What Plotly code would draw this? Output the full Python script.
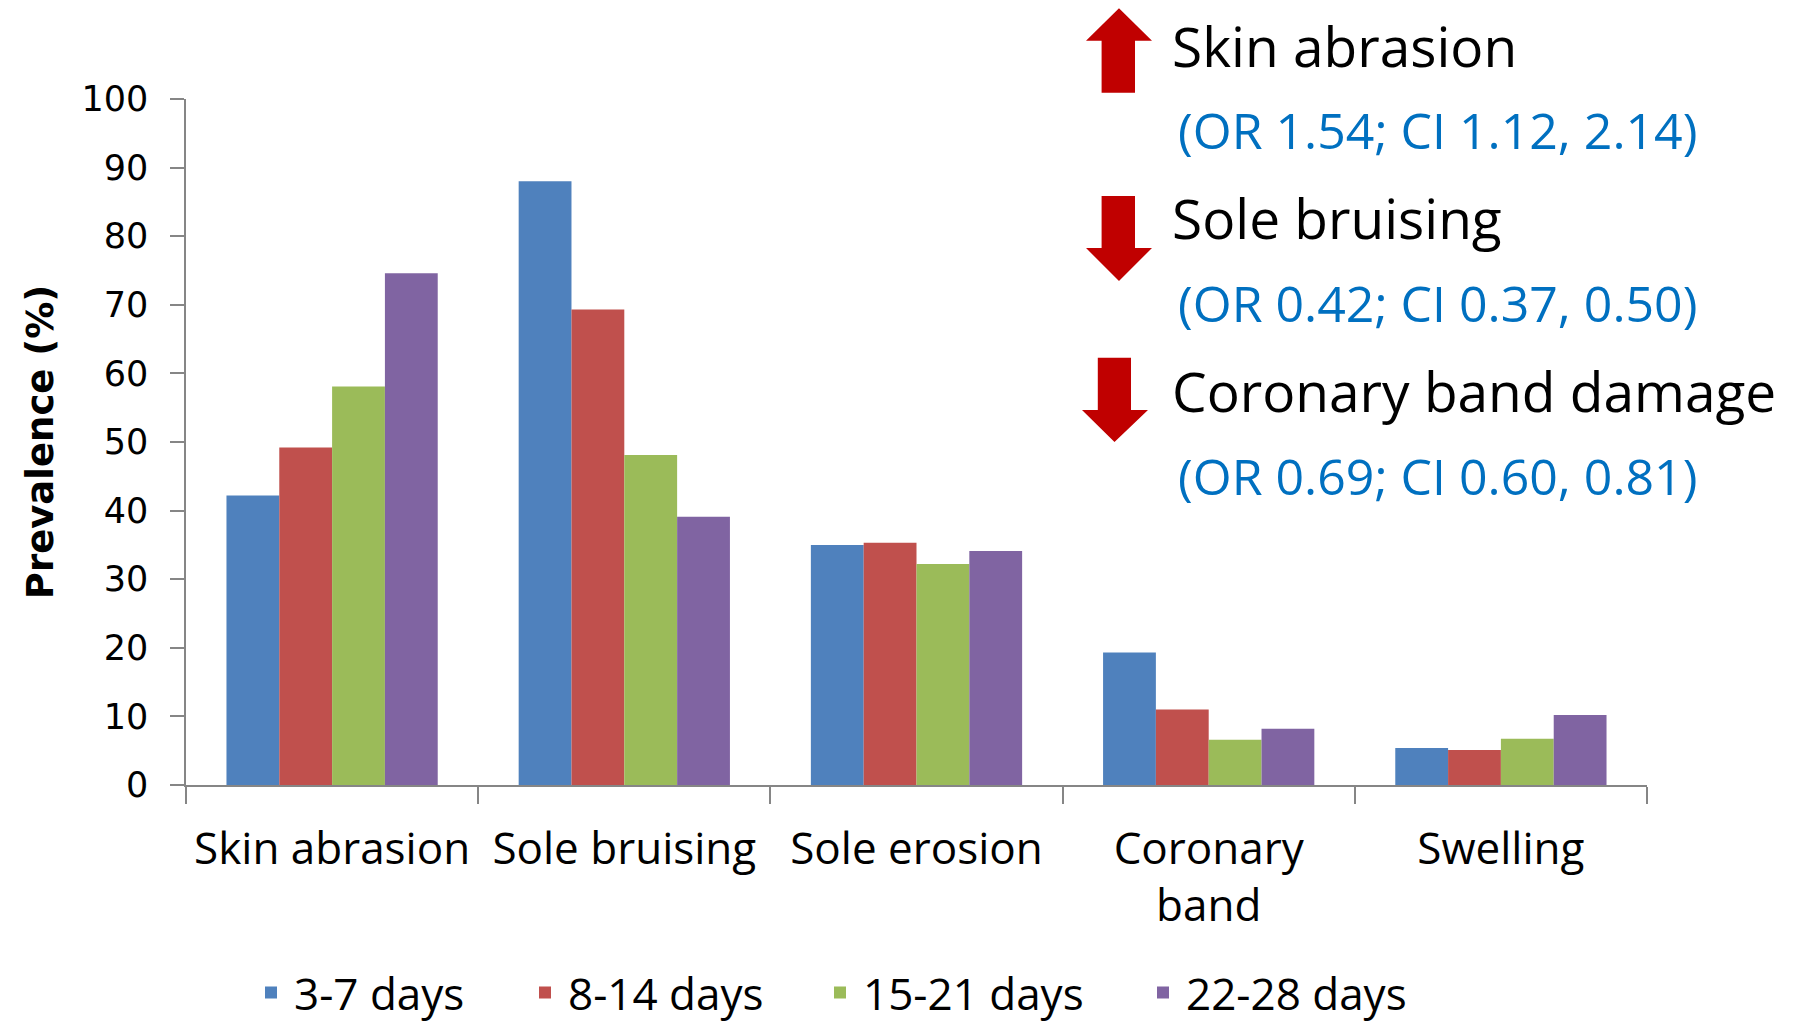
import plotly.graph_objects as go

# ---- data ----
categories = ["Skin abrasion", "Sole bruising", "Sole erosion", "Coronary<br>band", "Swelling"]
series_names = ["3-7 days", "8-14 days", "15-21 days", "22-28 days"]
days_3_7 = [42.2, 88.0, 35.0, 19.3, 5.4]
days_8_14 = [49.2, 69.3, 35.3, 11.0, 5.1]
days_15_21 = [58.1, 48.1, 32.2, 6.6, 6.75]
days_22_28 = [74.6, 39.1, 34.1, 8.2, 10.2]
series_values = [days_3_7, days_8_14, days_15_21, days_22_28]
colors = ["#4F81BD", "#C0504D", "#9BBB59", "#8064A2"]
y_ticks = [0, 10, 20, 30, 40, 50, 60, 70, 80, 90, 100]

annot_lines = [
    ("Skin abrasion", "(OR 1.54; CI 1.12, 2.14)"),
    ("Sole bruising", "(OR 0.42; CI 0.37, 0.50)"),
    ("Coronary band damage", "(OR 0.69; CI 0.60, 0.81)"),
]

W, H = 1795, 1022
PL, PR, PT, PB = 186, 1647, 99, 785  # plot area in pixels


def px(x):
    return (x - PL) / (PR - PL)


def py(y):
    return (PB - y) / (PB - PT)


TEXT_FONT = "Open Sans, Noto Sans, sans-serif"

fig = go.Figure()
legend_x_px = [256, 530, 825, 1148]
for i, (name, vals, col) in enumerate(zip(series_names, series_values, colors)):
    lname = "legend" if i == 0 else f"legend{i+1}"
    fig.add_trace(go.Bar(
        x=categories, y=vals, name=name, marker=dict(color=col, line=dict(width=0)),
        legend=lname, showlegend=True,
    ))

legend_common = dict(
    orientation="h", xref="container", yref="container", yanchor="middle",
    xanchor="left", font=dict(family=TEXT_FONT, size=44, color="#000000"),
    bgcolor="rgba(0,0,0,0)", borderwidth=0, visible=True, itemwidth=36,
)
layout_legends = {}
for i, lx in enumerate(legend_x_px):
    key = "legend" if i == 0 else f"legend{i+1}"
    layout_legends[key] = dict(legend_common, x=(lx - 8) / W, y=1 - 993 / H)

# arrows (decorations) in pixel coords -> paper
def arrow_path(points):
    s = "M " + " L ".join(f"{px(x):.5f},{py(y):.5f}" for x, y in points) + " Z"
    return s

up = [(1101.6, 92.7), (1101.6, 40.7), (1086, 40.7), (1119, 8.3), (1152, 40.7), (1135, 40.7), (1135, 92.7)]
down1 = [(1101.6, 196), (1101.6, 248), (1086, 248), (1119, 281), (1152, 248), (1135, 248), (1135, 196)]
down2 = [(1097.8, 357.7), (1097.8, 410), (1082, 410), (1114.5, 442), (1148, 410), (1131, 410), (1131, 357.7)]
shapes = []
for pts in (up, down1, down2):
    shapes.append(dict(type="path", xref="paper", yref="paper", path=arrow_path(pts),
                       fillcolor="#C00000", line=dict(width=0)))

annotations = []
black_y = [45, 217.5, 390]
blue_y = [130, 303, 476]
for (black, blue), by, bly in zip(annot_lines, black_y, blue_y):
    annotations.append(dict(text=black, xref="paper", yref="paper", x=px(1170), y=py(by),
                            xanchor="left", yanchor="middle", showarrow=False,
                            font=dict(family=TEXT_FONT, size=55, color="#000000")))
    annotations.append(dict(text=blue, xref="paper", yref="paper", x=px(1176), y=py(bly),
                            xanchor="left", yanchor="middle", showarrow=False,
                            font=dict(family=TEXT_FONT, size=50, color="#0070C0")))

fig.update_layout(
    width=W, height=H,
    margin=dict(l=PL, r=W - PR, t=PT, b=H - PB, pad=0),
    paper_bgcolor="white", plot_bgcolor="white",
    barmode="group", bargap=0.277, bargroupgap=0,
    shapes=shapes, annotations=annotations,
    **layout_legends,
)
fig.update_xaxes(
    type="category", showgrid=False, showline=True, linecolor="#868686", linewidth=1.5,
    ticks="outside", tickson="boundaries", ticklen=17, tickcolor="#868686", tickwidth=1.5,
    tickfont=dict(family=TEXT_FONT, size=44, color="#000000"), ticklabelstandoff=24,
    range=[-0.5, 4.5], zeroline=False,
)
fig.update_yaxes(
    range=[0, 100], tickvals=y_ticks, showgrid=False, showline=True, linecolor="#868686",
    linewidth=1.5, ticks="outside", ticklen=14, tickcolor="#868686", tickwidth=1.5,
    tickfont=dict(family="DejaVu Sans", size=35, color="#000000"), ticklabelstandoff=15,
    zeroline=False,
    title=dict(text="<b>Prevalence (%)</b>", font=dict(family="DejaVu Sans", size=37, color="#000000"), standoff=16),
)

fig.write_html("out.html", config={"displayModeBar": False},
               post_script="document.body.style.margin='0';document.body.style.overflow='hidden';")
